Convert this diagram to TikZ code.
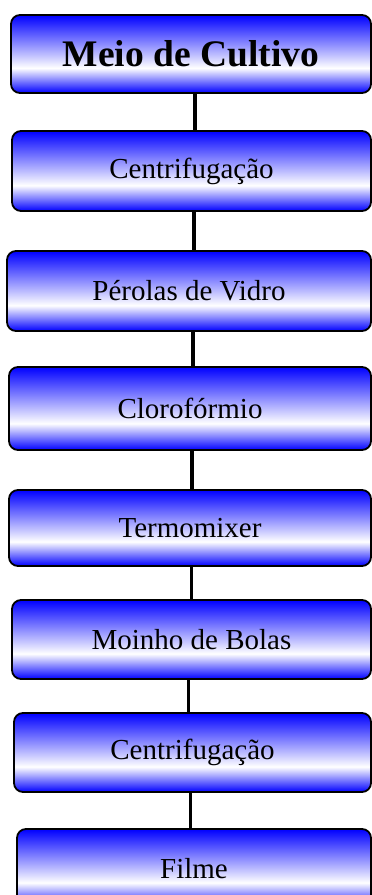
\documentclass[tikz,border=0pt]{standalone}
\usepackage{fontspec}
\setmainfont{Liberation Serif}
\pgfdeclareverticalshading{boxshade}{100bp}{color(0bp)=(blue); color(25bp)=(blue); color(41bp)=(white); color(75bp)=(blue); color(100bp)=(blue)}
\begin{document}
\begin{tikzpicture}[x=1pt,y=1pt,
  stepbox/.style={draw=black, line width=1.8pt, rounded corners=9pt, shading=boxshade,
    inner sep=0pt, font=\fontsize{29}{33}\selectfont, text=black},
  titlebox/.style={stepbox, font=\fontsize{37.5}{42}\selectfont\bfseries},
  conn/.style={draw=black, line width=3.4pt}]
\clip (0,0) rectangle (372,-895);
\fill[white] (0,0) rectangle (372,-895);
\node[titlebox, minimum width=360pt, minimum height=78pt] (b1) at (191,-54) {Meio de Cultivo};
\node[stepbox, minimum width=359pt, minimum height=80pt] (b2) at (191.5,-171) {Centrifugação};
\node[stepbox, minimum width=364pt, minimum height=80pt] (b3) at (189,-291) {Pérolas de Vidro};
\node[stepbox, minimum width=362pt, minimum height=83pt] (b4) at (190,-408.5) {Clorofórmio};
\node[stepbox, minimum width=362pt, minimum height=76pt] (b5) at (190,-528) {Termomixer};
\node[stepbox, minimum width=359pt, minimum height=79pt] (b6) at (191.5,-639.5) {Moinho de Bolas};
\node[stepbox, minimum width=357pt, minimum height=79pt] (b7) at (192.5,-752.5) {Centrifugação};
\node[stepbox, minimum width=354pt, minimum height=79pt, text depth=0pt] (b8) at (194,-868.5) {Filme};
\draw[conn] ([xshift=4pt]b1.south) -- ([xshift=4pt]b1.south |- b2.north);
\draw[conn] ([xshift=2.5pt]b2.south) -- ([xshift=2.5pt]b2.south |- b3.north);
\draw[conn] ([xshift=4pt]b3.south) -- ([xshift=4pt]b3.south |- b4.north);
\draw[conn] ([xshift=2pt]b4.south) -- ([xshift=2pt]b4.south |- b5.north);
\draw[conn] ([xshift=1.5pt]b5.south) -- ([xshift=1.5pt]b5.south |- b6.north);
\draw[conn] ([xshift=-3pt]b6.south) -- ([xshift=-3pt]b6.south |- b7.north);
\draw[conn] ([xshift=-2pt]b7.south) -- ([xshift=-2pt]b7.south |- b8.north);
\end{tikzpicture}
\end{document}
